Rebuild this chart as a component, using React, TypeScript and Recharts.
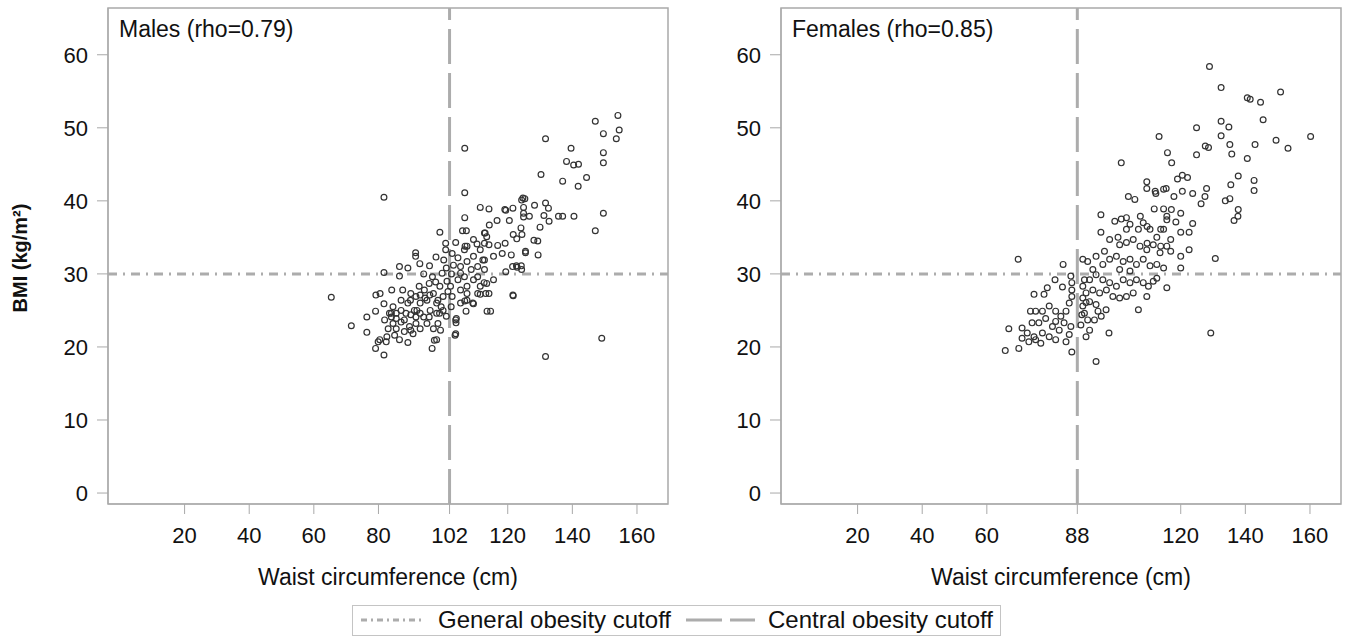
import { ReferenceArea, ReferenceLine, Scatter, ScatterChart, XAxis, YAxis } from "recharts";

// [waist cm, BMI]
const malePoints: [number, number][] = [
  [154.1, 51.7], [147.1, 50.9], [154.5, 49.7], [149.6, 49.2], [153.6, 48.5], [131.7, 48.5],
  [106.7, 47.2], [139.6, 47.2], [149.6, 46.6], [138.2, 45.4], [140.4, 44.9], [141.9, 45.0],
  [149.6, 45.2], [130.3, 43.6], [144.4, 43.2], [137.0, 42.7], [141.8, 42.0], [106.7, 41.1],
  [124.7, 40.4], [125.3, 40.3], [124.3, 40.1], [131.7, 39.7], [128.3, 39.4], [111.5, 39.1],
  [114.2, 38.9], [119.4, 38.7], [121.6, 39.0], [124.9, 39.1], [132.6, 39.0], [124.9, 38.3],
  [124.9, 37.8], [131.2, 38.0], [135.7, 37.9], [137.0, 37.9], [140.5, 37.9], [149.6, 38.3],
  [106.7, 37.7], [116.7, 37.3], [120.5, 37.3], [132.8, 37.2], [106.0, 35.9], [107.2, 35.9],
  [114.3, 36.7], [130.0, 36.4], [147.1, 35.9], [113.0, 35.6], [124.1, 36.3], [121.7, 35.4],
  [124.4, 35.4], [122.8, 34.8], [129.3, 34.5], [119.2, 34.2], [116.9, 33.9], [114.2, 34.0],
  [110.5, 34.1], [106.8, 33.8], [103.9, 34.3], [125.5, 33.1], [129.4, 32.6], [121.1, 32.6],
  [118.3, 32.8], [115.6, 32.4], [112.3, 31.9], [109.4, 32.4], [121.5, 31.0], [122.9, 30.9],
  [124.3, 30.6], [119.4, 30.3], [115.6, 29.2], [112.7, 28.8], [121.7, 27.0], [114.2, 27.3],
  [111.5, 27.2], [109.4, 25.9], [107.1, 24.9], [114.7, 24.9], [106.7, 26.3], [103.9, 23.7],
  [103.7, 21.6], [149.1, 21.2], [99.2, 22.3], [131.7, 18.7],
  [65.4, 26.8], [81.7, 40.5], [71.6, 22.9], [76.4, 24.1], [76.4, 22.0], [79.1, 24.9],
  [79.1, 19.8], [81.7, 18.9], [79.2, 27.1], [80.5, 27.3], [81.7, 30.2], [84.1, 27.8],
  [86.5, 31.0], [86.5, 29.7], [89.1, 30.8], [91.5, 32.9], [91.5, 32.4], [92.8, 31.4],
  [94.0, 30.0], [95.8, 31.1], [97.8, 32.3], [99.0, 35.7], [80.4, 21.0], [82.6, 21.4],
  [86.5, 21.0], [89.1, 20.6], [96.6, 19.8], [98.0, 21.0], [103.9, 21.8], [104.0, 23.3],
  [113.6, 24.9], [109.2, 26.0], [121.6, 27.1], [119.1, 38.8], [126.7, 37.9], [128.1, 34.6],
  [125.5, 32.9], [124.2, 31.1], [122.7, 31.1],
  [81.7, 25.9], [87.5, 27.8], [89.9, 26.4], [81.9, 23.7], [83.4, 24.6], [84.5, 25.5],
  [85.5, 23.9], [87.0, 23.4], [88.5, 24.6], [89.6, 22.8], [90.7, 21.8], [90.0, 24.4],
  [91.9, 25.0], [92.9, 26.0], [94.0, 24.1], [95.0, 26.4], [96.0, 25.0], [97.0, 27.3],
  [98.0, 26.0], [99.0, 28.3], [100.0, 26.9], [98.4, 23.2], [97.3, 20.9], [85.0, 21.6],
  [82.4, 20.7], [79.9, 20.7], [104.1, 23.9], [105.4, 27.8], [107.4, 28.3], [109.4, 29.2],
  [111.5, 28.3], [113.5, 28.7], [104.6, 29.2], [106.6, 29.6], [108.7, 30.6], [110.7, 31.0],
  [105.4, 31.0], [107.4, 31.7], [111.5, 33.3], [106.6, 33.3], [104.6, 32.2], [113.5, 35.1],
  [92.6, 28.3], [94.2, 27.8], [95.7, 28.7], [96.7, 29.6], [97.7, 28.9], [99.7, 30.1],
  [100.2, 31.9], [100.8, 34.2], [100.8, 33.3], [102.8, 32.8], [102.3, 28.3], [102.8, 26.9],
  [102.5, 25.5], [105.4, 26.0], [107.4, 26.4], [91.1, 25.0], [89.1, 26.0], [87.0, 26.4],
  [84.0, 24.6], [83.0, 22.5], [88.0, 22.1], [91.6, 23.2], [92.9, 22.5], [95.0, 23.2],
  [97.0, 22.5], [85.5, 22.5], [84.5, 23.2], [90.0, 27.3], [91.6, 26.9], [92.9, 27.1],
  [94.4, 26.7], [95.9, 27.1], [98.4, 26.4], [99.4, 25.5], [98.9, 24.6], [100.0, 25.0],
  [98.0, 24.6], [95.7, 24.1], [92.9, 24.6], [91.6, 24.1], [87.0, 25.0], [85.5, 24.6],
  [84.0, 24.1], [88.0, 23.7], [90.0, 22.3], [110.7, 27.3], [113.2, 27.3], [107.4, 27.3],
  [105.4, 30.1], [110.7, 29.6], [112.8, 30.6], [112.8, 31.9], [109.4, 34.7], [107.4, 33.8],
  [112.8, 35.6], [112.8, 34.2], [101.2, 29.0], [101.0, 30.8], [101.5, 27.6], [101.0, 24.2],
  [102.6, 30.0], [103.2, 31.2],
];

const femalePoints: [number, number][] = [
  [65.7, 19.5], [69.7, 32.0], [66.8, 22.5], [70.9, 22.6], [69.9, 19.8], [70.9, 21.2],
  [74.6, 27.2], [77.7, 27.2], [78.7, 28.1], [81.1, 29.2], [83.4, 28.2], [83.6, 31.3],
  [86.3, 19.3], [93.8, 18.0], [97.8, 21.9], [106.9, 25.1], [86.0, 29.7], [86.3, 28.8],
  [86.3, 27.8], [86.3, 26.9], [85.5, 26.0], [84.5, 24.9], [82.9, 24.2], [81.3, 24.9],
  [79.3, 25.6], [77.2, 24.9], [75.1, 24.9], [73.5, 24.9], [76.1, 23.3], [74.0, 23.3],
  [72.5, 21.9], [74.6, 21.4], [77.2, 21.9], [79.3, 21.4], [81.3, 21.0], [84.5, 20.7],
  [85.5, 21.7], [82.4, 22.3], [80.3, 22.8], [78.2, 23.9], [81.3, 23.5], [83.9, 23.3],
  [86.0, 22.8], [76.7, 20.5], [75.1, 21.0], [73.0, 20.7], [90.7, 21.4], [91.8, 22.3],
  [89.1, 23.0], [91.2, 23.7], [93.3, 23.7], [95.4, 24.2], [96.9, 25.1], [94.4, 24.9],
  [90.2, 24.6], [89.7, 25.6], [89.7, 26.7], [91.8, 26.2], [93.8, 25.8], [90.7, 27.4],
  [92.8, 27.8], [94.9, 27.4], [97.0, 27.8], [99.0, 26.9], [101.1, 26.7], [103.2, 26.9],
  [105.3, 27.4], [109.5, 26.9], [110.0, 28.3], [111.5, 29.0], [115.7, 28.1], [91.8, 29.2],
  [92.8, 30.6], [93.8, 29.9], [95.9, 29.2], [98.0, 28.8], [100.1, 28.3], [102.2, 29.2],
  [104.3, 28.8], [106.3, 29.2], [108.4, 28.8], [112.6, 29.4], [89.7, 32.0], [91.2, 31.7],
  [93.8, 32.4], [96.4, 33.1], [98.0, 32.0], [100.1, 32.4], [102.2, 31.7], [104.3, 32.0],
  [106.3, 31.3], [108.4, 32.0], [110.5, 31.1], [112.6, 31.3], [114.7, 30.8], [95.9, 31.3],
  [101.1, 30.6], [104.3, 30.4], [98.0, 34.7], [100.6, 35.0], [101.1, 34.0], [103.2, 34.3],
  [105.3, 34.7], [107.4, 33.8], [109.5, 33.3], [111.5, 34.0], [113.6, 32.9], [115.7, 33.8],
  [99.6, 37.2], [101.6, 37.5], [103.2, 36.1], [104.3, 36.8], [106.9, 36.1], [108.4, 37.0],
  [110.5, 36.1], [112.6, 35.0], [114.7, 36.1], [115.7, 37.9], [103.2, 37.7], [105.8, 40.2],
  [103.8, 40.6], [109.5, 42.6], [109.5, 41.7], [112.1, 41.3], [114.7, 41.6], [111.8, 38.9],
  [114.7, 38.9], [90.2, 29.2], [89.7, 28.3], [90.7, 26.1], [89.4, 24.4],
  [128.9, 58.4], [132.5, 55.5], [150.9, 54.9], [140.6, 54.1], [141.5, 53.9], [144.7, 53.5],
  [145.5, 51.1], [132.5, 50.9], [134.9, 50.1], [124.9, 50.0], [113.3, 48.8], [160.2, 48.8],
  [149.5, 48.3], [132.5, 48.9], [135.2, 47.7], [143.0, 47.7], [127.6, 47.5], [128.6, 47.3],
  [153.2, 47.2], [115.9, 46.6], [124.9, 46.3], [135.8, 46.4], [140.6, 45.8], [117.2, 45.2],
  [101.6, 45.2], [137.8, 43.4], [119.0, 43.0], [120.5, 43.5], [122.1, 43.2], [142.7, 42.8],
  [142.7, 41.4], [135.5, 42.2], [115.5, 41.7], [117.9, 40.6], [120.5, 41.3], [123.7, 41.0],
  [128.0, 41.7], [127.5, 40.6], [126.3, 39.6], [133.8, 40.0], [135.2, 40.3], [137.8, 38.8],
  [137.7, 37.9], [136.5, 37.3], [112.3, 41.0], [95.3, 38.1], [95.3, 35.7], [130.7, 32.1],
  [117.1, 38.8], [120.0, 38.3], [115.7, 37.4], [118.5, 37.1], [123.7, 36.9], [120.0, 35.7],
  [122.6, 35.7], [107.5, 37.9], [109.6, 36.5], [113.8, 36.1], [116.9, 34.7], [122.6, 33.3],
  [120.0, 32.4], [120.0, 30.8], [116.9, 33.1], [113.8, 33.8], [109.6, 34.2], [129.3, 21.9],
];

const bmiTicks = [0, 10, 20, 30, 40, 50, 60];
const maleWaistTicks = [20, 40, 60, 80, 102, 120, 140, 160];
const femaleWaistTicks = [20, 40, 60, 88, 120, 140, 160];
const bmiCutoff = 30;
const maleWaistCutoff = 102;
const femaleWaistCutoff = 88;

const X_DOMAIN: [number, number] = [-3.7, 169.6];
const Y_DOMAIN: [number, number] = [-1.5, 66.4];
const FRAME = "#a9a9a9";
const CUT = "#acacac";
const INK = "#111";
const FONT = "'Liberation Sans', Arial, sans-serif";

const Dot = (p: any) => (
  <circle cx={p.cx} cy={p.cy} r={2.9} fill="none" stroke="#333" strokeWidth={1.2} />
);

function Panel({ points, ticks, cutoff, left }: { points: [number, number][]; ticks: number[]; cutoff: number; left: number }) {
  const data = points.map(([w, b]) => ({ w, b }));
  return (
    <div style={{ position: "absolute", left, top: 0 }}>
      <ScatterChart width={680} height={600} margin={{ top: 8, right: 12, bottom: 0, left: 0 }}>
        <XAxis
          type="number"
          dataKey="w"
          domain={X_DOMAIN}
          ticks={ticks}
          interval={0}
          allowDataOverflow
          height={96}
          tickSize={10}
          tickMargin={13}
          stroke={FRAME}
          tick={{ fill: INK, fontSize: 22 }}
        />
        <YAxis
          type="number"
          dataKey="b"
          domain={Y_DOMAIN}
          ticks={bmiTicks}
          interval={0}
          allowDataOverflow
          width={108}
          tickSize={11}
          tickMargin={9}
          stroke={FRAME}
          tick={{ fill: INK, fontSize: 22 }}
        />
        <ReferenceArea x1={X_DOMAIN[0]} x2={X_DOMAIN[1]} y1={Y_DOMAIN[0]} y2={Y_DOMAIN[1]} fill="none" stroke={FRAME} strokeWidth={1.5} />
        <Scatter data={data} shape={Dot} isAnimationActive={false} />
        <ReferenceLine y={bmiCutoff} stroke={CUT} strokeWidth={3} strokeDasharray="9 6 2 6" />
        <ReferenceLine x={cutoff} stroke={CUT} strokeWidth={3} strokeDasharray="35 9" />
      </ScatterChart>
    </div>
  );
}

export default function App() {
  return (
    <div style={{ position: "absolute", left: 0, top: 0, width: 1361, height: 637, background: "#fff", fontFamily: FONT }}>
      <Panel points={malePoints} ticks={maleWaistTicks} cutoff={maleWaistCutoff} left={0} />
      <Panel points={femalePoints} ticks={femaleWaistTicks} cutoff={femaleWaistCutoff} left={673} />
      <svg width={1361} height={637} style={{ position: "absolute", left: 0, top: 0, pointerEvents: "none" }} fontFamily={FONT} fill={INK}>
        <text x={27} y={258} transform="rotate(-90 27 258)" textAnchor="middle" fontSize={20} fontWeight="bold">
          BMI (kg/m²)
        </text>
        <text x={119} y={37} fontSize={23}>Males (rho=0.79)</text>
        <text x={792} y={37} fontSize={23}>Females (rho=0.85)</text>
        <text x={388} y={585} textAnchor="middle" fontSize={23}>Waist circumference (cm)</text>
        <text x={1061} y={585} textAnchor="middle" fontSize={23}>Waist circumference (cm)</text>
        <rect x={352.5} y={605.5} width={648} height={30} fill="none" stroke="#c4c4c4" />
        <line x1={361} x2={423} y1={620} y2={620} stroke={CUT} strokeWidth={3} strokeDasharray="6 4 2 4" />
        <text x={438} y={628} fontSize={24}>General obesity cutoff</text>
        <line x1={686} x2={755} y1={620} y2={620} stroke={CUT} strokeWidth={3} strokeDasharray="36 8" />
        <text x={768} y={628} fontSize={24}>Central obesity cutoff</text>
      </svg>
    </div>
  );
}
